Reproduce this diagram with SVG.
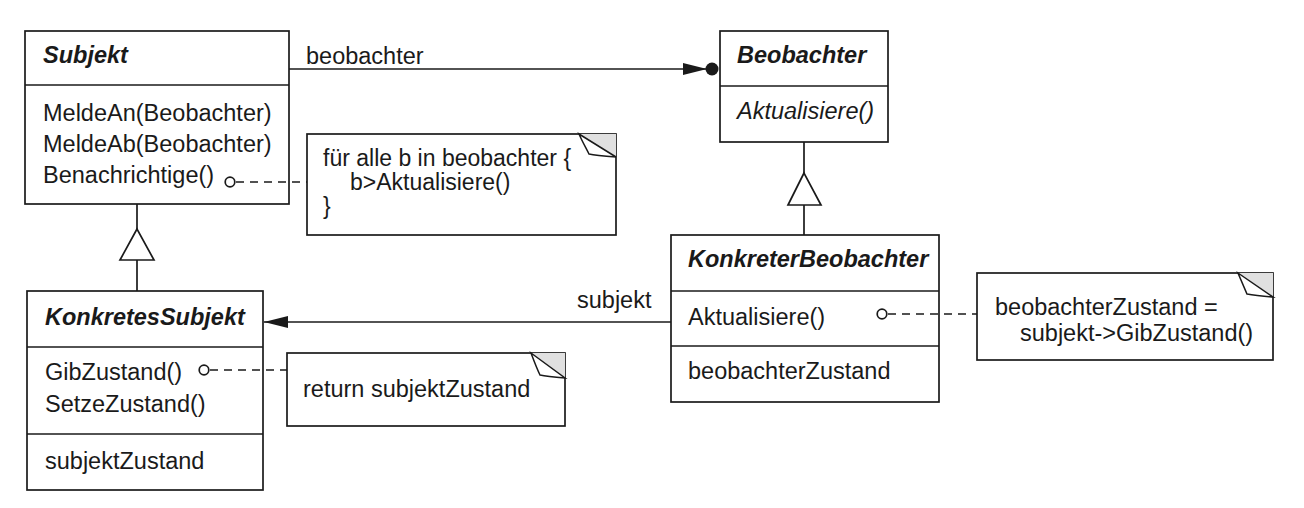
<svg xmlns="http://www.w3.org/2000/svg" width="1304" height="508" viewBox="0 0 1304 508">
<style>
.box{fill:#fff;stroke:#1a1a1a;stroke-width:1.7}
.ln{fill:none;stroke:#1a1a1a;stroke-width:1.7}
.dash{fill:none;stroke:#1a1a1a;stroke-width:1.6;stroke-dasharray:8 6}
.dot{fill:#fff;stroke:#1a1a1a;stroke-width:1.7}
text{font-family:"Liberation Sans",Arial,sans-serif;font-size:23.5px;fill:#1a1a1a}
.title{font-weight:bold;font-style:italic}
.it{font-style:italic}
.nt{font-size:23px}
.fold{fill:#e0e0e0;stroke:none}
.flap{fill:#fff;stroke:#1a1a1a;stroke-width:1.5}
</style>
<defs>
<marker id="arrowFill" viewBox="0 0 24 12" refX="24" refY="6" markerWidth="24" markerHeight="12" markerUnits="userSpaceOnUse" orient="auto">
<path d="M0,0 L24,6 L0,12 Z" fill="#1a1a1a"/>
</marker>
</defs>

<g id="Subjekt">
<rect class="box" x="25" y="31" width="264" height="173"/>
<line class="ln" x1="25" y1="85" x2="289" y2="85"/>
<text class="title" x="43" y="63">Subjekt</text>
<text x="43" y="121">MeldeAn(Beobachter)</text>
<text x="43" y="152">MeldeAb(Beobachter)</text>
<text x="43" y="183">Benachrichtige()</text>
</g>

<g id="Beobachter">
<rect class="box" x="720" y="31" width="168" height="111"/>
<line class="ln" x1="720" y1="86" x2="888" y2="86"/>
<text class="title" x="737" y="63">Beobachter</text>
<text class="it" x="737" y="119">Aktualisiere()</text>
</g>

<g id="KonkretesSubjekt">
<rect class="box" x="27" y="291" width="236" height="199"/>
<line class="ln" x1="27" y1="347" x2="263" y2="347"/>
<line class="ln" x1="27" y1="434" x2="263" y2="434"/>
<text class="title" x="45" y="325">KonkretesSubjekt</text>
<text x="45" y="380">GibZustand()</text>
<text x="45" y="412">SetzeZustand()</text>
<text x="45" y="469">subjektZustand</text>
</g>

<g id="KonkreterBeobachter">
<rect class="box" x="671" y="235" width="268" height="167"/>
<line class="ln" x1="671" y1="291" x2="939" y2="291"/>
<line class="ln" x1="671" y1="346" x2="939" y2="346"/>
<text class="title" x="688" y="267">KonkreterBeobachter</text>
<text x="688" y="325">Aktualisiere()</text>
<text x="688" y="379">beobachterZustand</text>
</g>

<g id="note1">
<rect class="box" x="307" y="134" width="309" height="101"/>
<polygon class="fold" points="579,134 616,134 616,157"/>
<path class="flap" d="M579,134 L616,157 C604,156 594,155 589,154 C586,148 582,141 579,134 Z"/>
<text class="nt" x="323" y="166">für alle b in beobachter {</text>
<text class="nt" x="350" y="190">b&gt;Aktualisiere()</text>
<text class="nt" x="323" y="214">}</text>
</g>

<g id="note2">
<rect class="box" x="287" y="353" width="278" height="73"/>
<polygon class="fold" points="531,353 565,353 565,378"/>
<path class="flap" d="M531,353 L565,378 C554,377 545,376 540,375 C537,369 534,361 531,353 Z"/>
<text x="303" y="397">return subjektZustand</text>
</g>

<g id="note3">
<rect class="box" x="977" y="273" width="296" height="87"/>
<polygon class="fold" points="1238,273 1273,273 1273,297"/>
<path class="flap" d="M1238,273 L1273,297 C1262,296 1253,295 1247,294 C1244,287 1241,280 1238,273 Z"/>
<text x="995" y="315">beobachterZustand =</text>
<text x="1020" y="341">subjekt-&gt;GibZustand()</text>
</g>

<g id="connectors">
<line class="ln" x1="289" y1="69" x2="707" y2="69" marker-end="url(#arrowFill)"/>
<circle cx="712" cy="69" r="6.5" fill="#1a1a1a"/>
<text x="306" y="64">beobachter</text>
<line class="ln" x1="671" y1="322" x2="264" y2="322" marker-end="url(#arrowFill)"/>
<text x="577" y="308">subjekt</text>
<line class="ln" x1="137" y1="204" x2="137" y2="229"/>
<polygon class="box" points="137,229 120,260 154,260"/>
<line class="ln" x1="137" y1="260" x2="137" y2="291"/>
<line class="ln" x1="804" y1="142" x2="804" y2="173"/>
<polygon class="box" points="804,173 788,205 821,205"/>
<line class="ln" x1="804" y1="205" x2="804" y2="235"/>
<circle class="dot" cx="230" cy="182" r="4.8"/>
<line class="dash" x1="236" y1="182" x2="307" y2="182"/>
<circle class="dot" cx="204" cy="370" r="4.8"/>
<line class="dash" x1="210" y1="370" x2="287" y2="370"/>
<circle class="dot" cx="882" cy="314" r="4.8"/>
<line class="dash" x1="888" y1="314" x2="977" y2="314"/>
</g>
</svg>
